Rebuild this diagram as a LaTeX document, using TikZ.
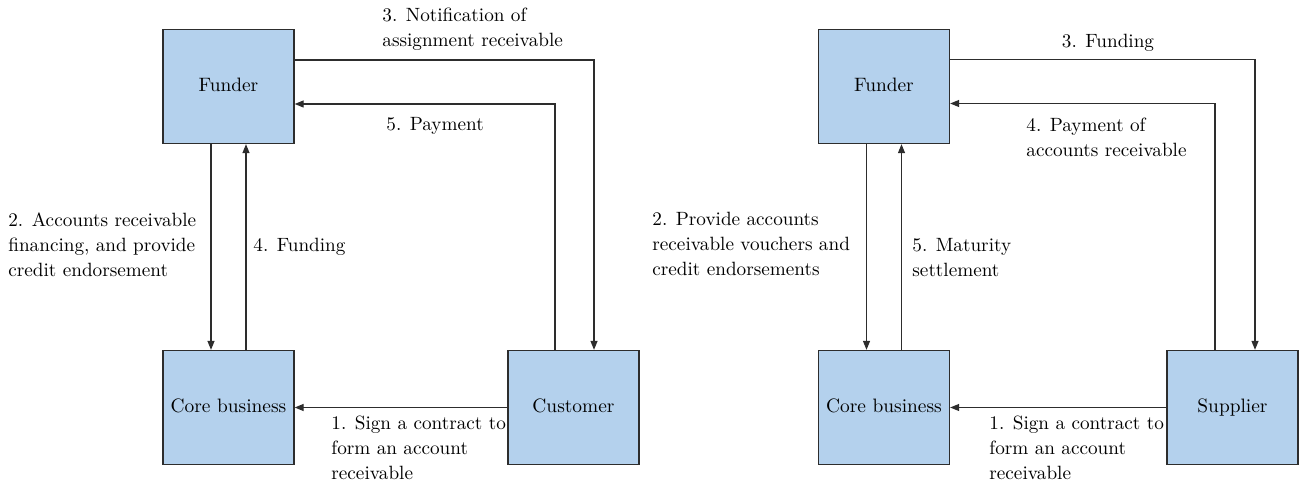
\documentclass[tikz,border=0pt]{standalone}
\usetikzlibrary{arrows.meta}
\definecolor{boxblue}{RGB}{180,209,237}
\definecolor{edgegray}{RGB}{45,45,45}

\begin{document}
\begin{tikzpicture}[x=0.5pt, y=-0.5pt,
    box/.style={draw=edgegray, line width=0.65pt, fill=boxblue, minimum width=65.5pt,
        minimum height=57pt, inner sep=0pt, text height=7pt, text depth=2pt,
        font=\fontsize{9.7}{12.5}\selectfont},
    lbl/.style={anchor=north west, align=left, inner sep=0pt,
        font=\fontsize{9.6}{12.5}\selectfont},
    arr/.style={-{Triangle[length=4.5pt, width=3.5pt]}, draw=edgegray, line width=0.6pt}]
    \useasboundingbox (0,0) rectangle (1300,485);

    % Customer scheme
    \node[box] (funderL) at (228.5, 86.5) {Funder};
    \node[box] (coreL) at (228.5, 407.5) {Core business};
    \node[box] (cust) at (573.5, 407.5) {Customer};

    % Funder <-> core business
    \draw[arr] ([xshift=-8.75pt]funderL.south) -- ([xshift=-8.75pt]coreL.north);
    \draw[arr] ([xshift=8.75pt]coreL.north) -- ([xshift=8.75pt]funderL.south);
    \node[lbl] (finL) at (8, 212) {2. Accounts receivable\\financing, and provide\\credit endorsement};
    \node[lbl] (fundL) at (253, 238) {4. Funding};

    % Funder <-> customer
    \draw[arr] ([yshift=13.25pt]funderL.east) -| ([xshift=10.25pt]cust.north);
    \draw[arr] ([xshift=-9.25pt]cust.north) |- ([yshift=-8.75pt]funderL.east);
    \node[lbl] (notif) at (382, 8) {3. Notification of\\assignment receivable};
    \node[lbl] (pay) at (386, 117) {5. Payment};

    % Customer -> core business
    \draw[arr] (cust.west |- coreL.east) -- (coreL.east);
    \node[lbl] (signL) at (331, 416) {1. Sign a contract to\\form an account\\receivable};

    % Supplier scheme
    \node[box] (funderR) at (884, 86.5) {Funder};
    \node[box] (coreR) at (884, 407.5) {Core business};
    \node[box] (supp) at (1232.5, 407.5) {Supplier};

    % Funder <-> core business
    \draw[arr] ([xshift=-8.75pt]funderR.south) -- ([xshift=-8.75pt]coreR.north);
    \draw[arr] ([xshift=8.75pt]coreR.north) -- ([xshift=8.75pt]funderR.south);
    \node[lbl] (vouch) at (652, 212) {2. Provide accounts\\receivable vouchers and\\credit endorsements};
    \node[lbl] (settle) at (912, 238) {5. Maturity\\settlement};

    % Funder <-> supplier
    \draw[arr] ([yshift=13.5pt]funderR.east) -| ([xshift=11.25pt]supp.north);
    \draw[arr] ([xshift=-8.75pt]supp.north) |- ([yshift=-8.5pt]funderR.east);
    \node[lbl, anchor=north] (fundR) at (1108, 34) {3. Funding};
    \node[lbl] (payR) at (1026, 118) {4. Payment of\\accounts receivable};

    % Supplier -> core business
    \draw[arr] (supp.west |- coreR.east) -- (coreR.east);
    \node[lbl] (signR) at (989, 416) {1. Sign a contract to\\form an account\\receivable};
\end{tikzpicture}
\end{document}
